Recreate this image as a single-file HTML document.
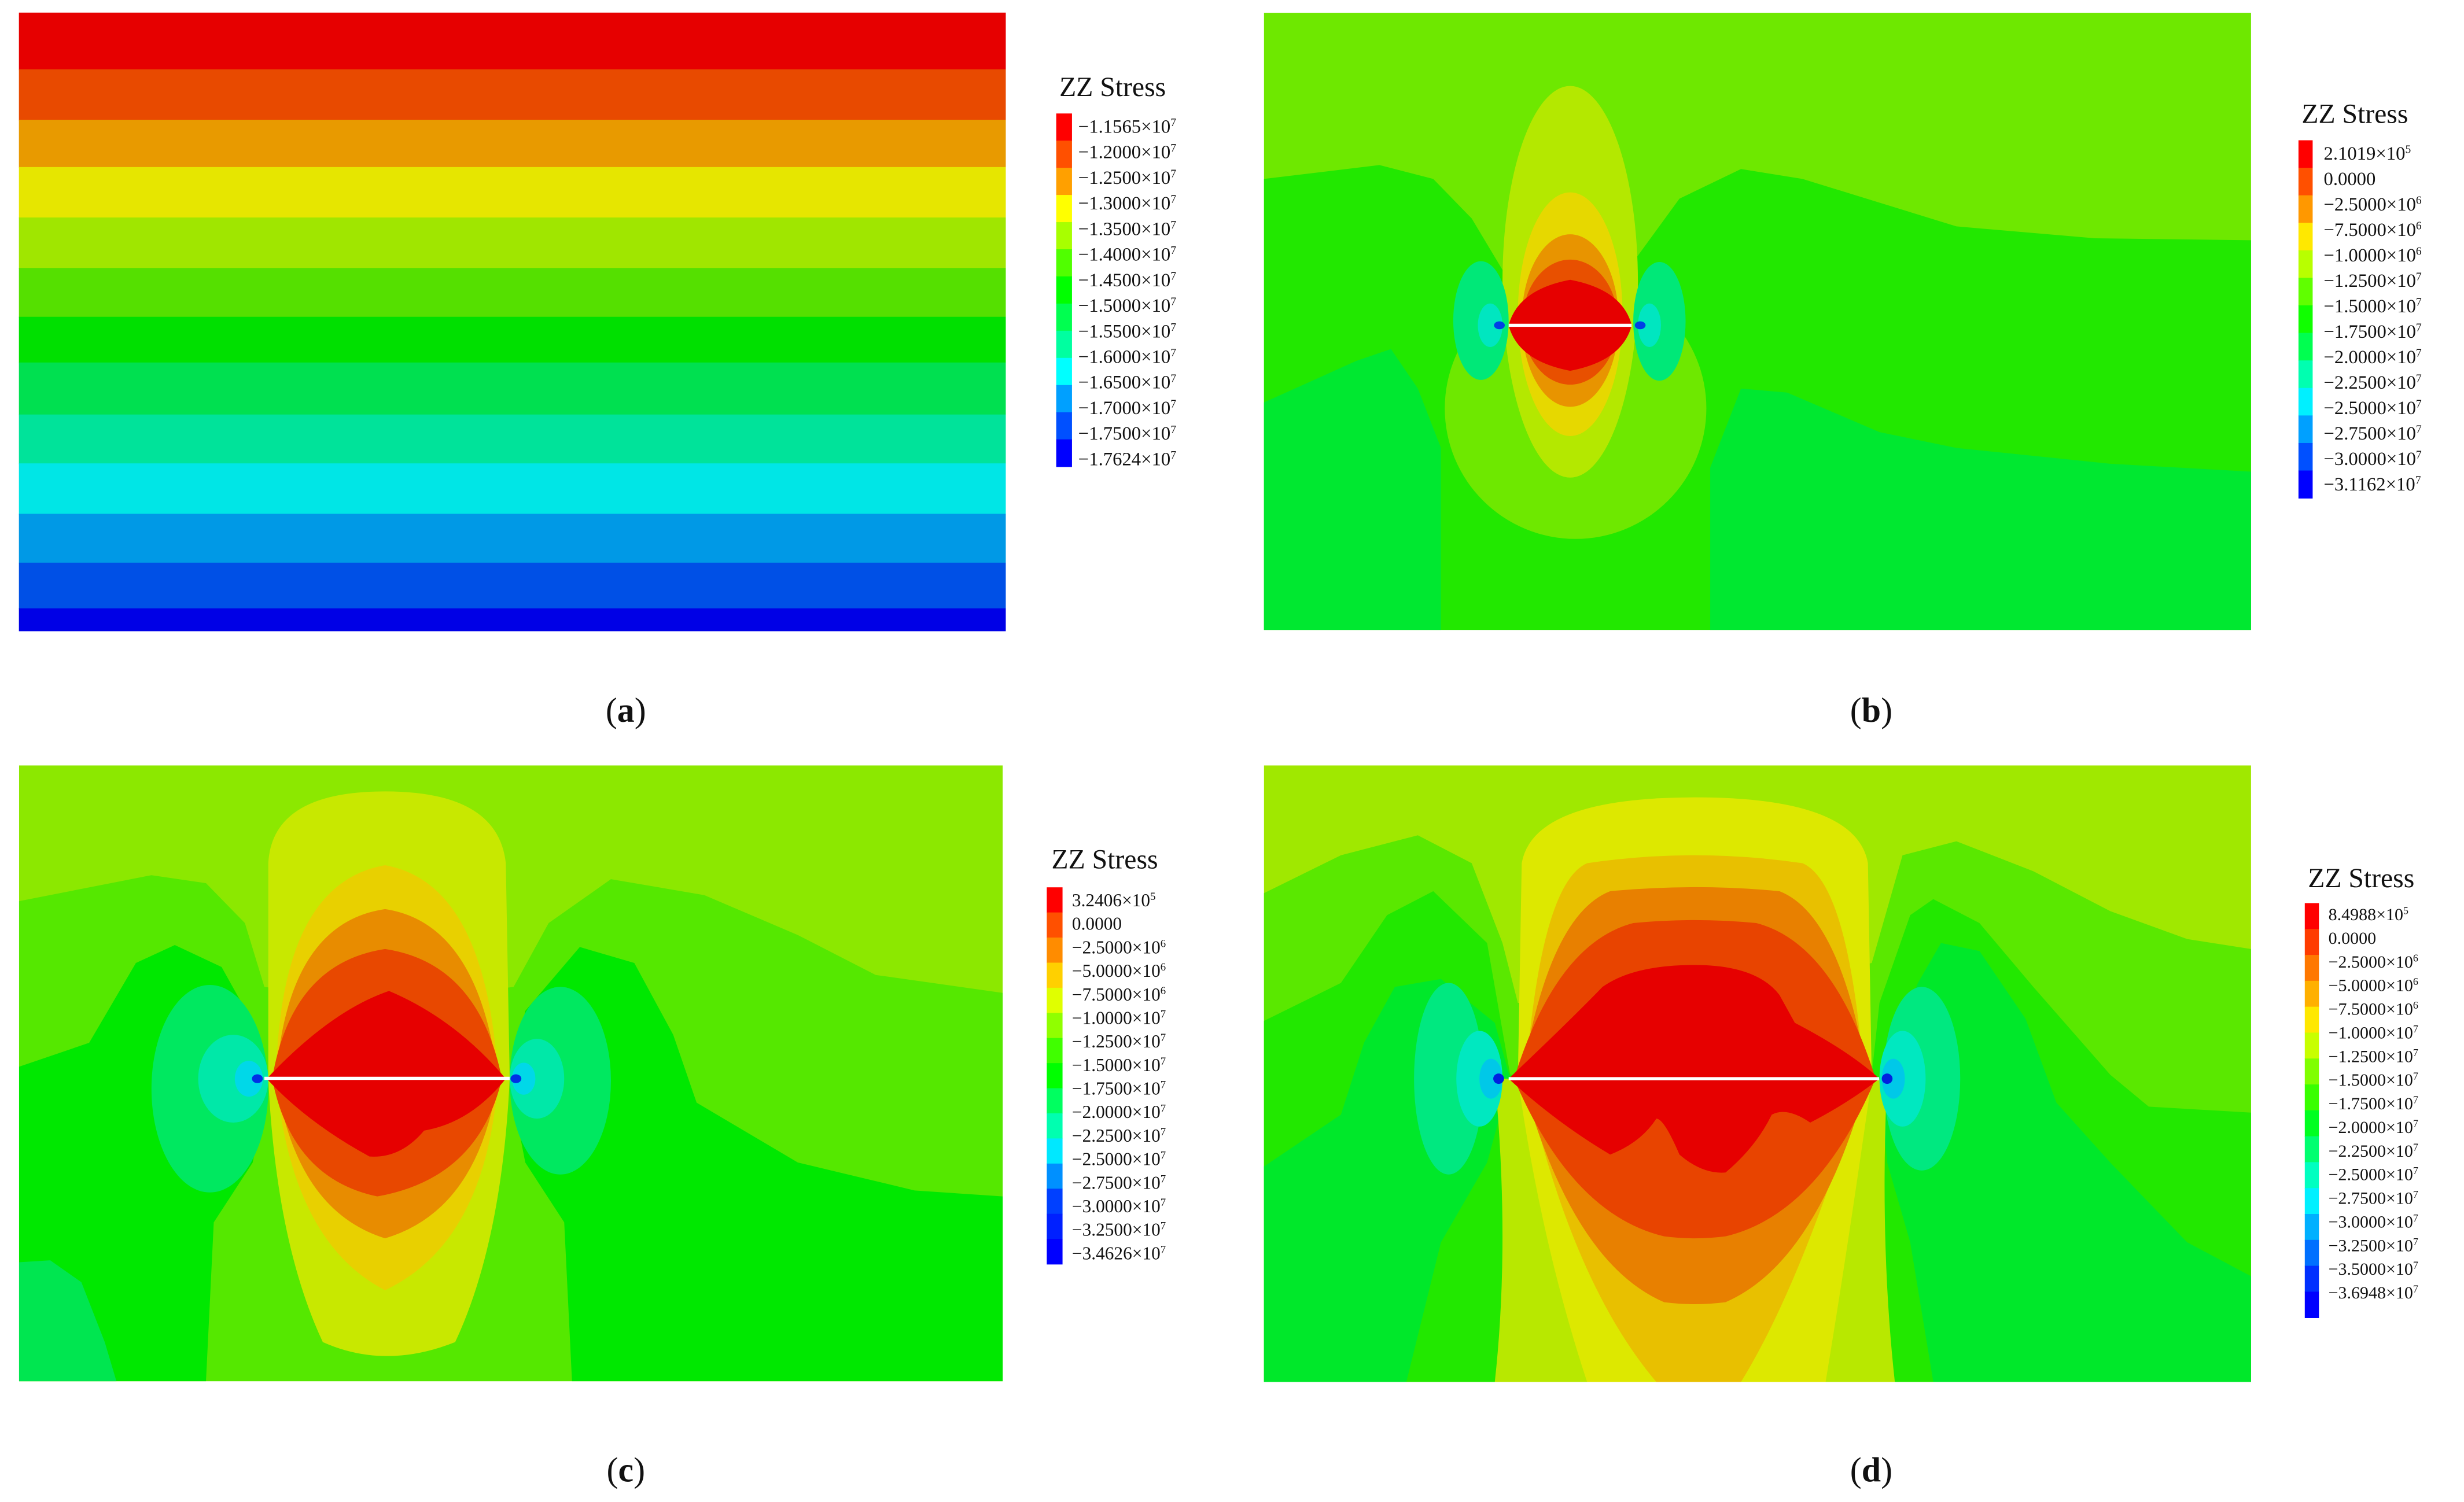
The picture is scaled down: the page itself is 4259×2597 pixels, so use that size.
<!DOCTYPE html>
<html><head><meta charset="utf-8"><style>
html,body{margin:0;padding:0;background:#fff;}
svg{display:block;font-family:"Liberation Serif",serif;}
text{font-family:"Liberation Serif",serif;fill:#111;}
</style></head><body>
<svg id="fig" width="4259" height="2597" viewBox="0 0 1563 953" preserveAspectRatio="none" font-family="Liberation Serif, serif" xmlns="http://www.w3.org/2000/svg">
<!-- Panel a -->
<g id="panelA"></g>

<!-- Panel b -->
<g>
<g transform="translate(801.8,8.1) scale(0.488,0.251)">
<rect x="0" y="0" width="1283" height="1560" fill="#6ee800"/>
<polygon fill="#22e800" points="0,420 150,385 220,420 270,520 310,650 400,700 480,630 540,470 620,395 700,420 800,480 900,540 1080,570 1283,575 1283,1560 0,1560"/>
<polygon fill="#00e830" points="0,985 120,880 165,850 200,950 230,1100 230,1560 0,1560"/>
<polygon fill="#00e830" points="580,1560 580,1150 620,950 680,960 800,1060 900,1100 1100,1140 1283,1160 1283,1560"/>
<ellipse cx="405" cy="1000" rx="170" ry="330" fill="#6ee800"/>
<ellipse cx="398" cy="680" rx="88" ry="495" fill="#b4e800"/>
<ellipse cx="398" cy="762" rx="68" ry="308" fill="#e6d800"/>
<ellipse cx="398" cy="778" rx="63" ry="218" fill="#e89400"/>
<ellipse cx="398" cy="782" rx="62" ry="158" fill="#e85000"/>
<path d="M318,790 Q330,700 398,675 Q466,700 478,790 Q466,880 398,905 Q330,880 318,790Z" fill="#e60000"/>
<ellipse cx="282" cy="778" rx="36" ry="150" fill="#00e878"/>
<ellipse cx="294" cy="790" rx="16" ry="55" fill="#00e6c0"/>
<ellipse cx="306" cy="790" rx="7" ry="10" fill="#0040e6"/>
<ellipse cx="514" cy="780" rx="34" ry="150" fill="#00e878"/>
<ellipse cx="501" cy="790" rx="15" ry="55" fill="#00e6c0"/>
<ellipse cx="489" cy="790" rx="7" ry="10" fill="#0040e6"/>
</g>
<line x1="957" y1="206.4" x2="1035" y2="206.4" stroke="#fff" stroke-width="2"/>
</g>

<!-- Panel c -->
<g>
<g transform="translate(12.1,484.4) scale(0.494,0.2532)">
<rect x="0" y="5" width="1263" height="1543" fill="#8ce800"/>
<polygon fill="#55e800" points="0,345 170,280 240,300 290,400 315,560 470,600 635,560 680,400 760,290 880,330 1000,430 1100,530 1263,575 1263,1548 0,1548"/>
<polygon fill="#00e800" points="0,760 90,700 150,500 200,455 260,510 300,650 320,800 300,1000 250,1150 240,1548 0,1548"/>
<polygon fill="#00e800" points="630,800 650,620 720,460 790,500 840,680 870,850 1000,1000 1150,1070 1263,1085 1263,1548 710,1548 700,1150 650,1000"/>
<polygon fill="#00e650" points="0,1250 40,1245 80,1300 110,1450 125,1548 0,1548"/>
<path d="M320,790 L320,250 Q325,70 470,70 Q615,70 625,250 L630,790 Q620,1200 560,1450 Q470,1520 390,1450 Q330,1200 320,790Z" fill="#c8e800"/>
<path d="M330,790 Q335,300 470,255 Q600,300 615,790 Q600,1200 470,1320 Q350,1200 330,790Z" fill="#e8d000"/>
<path d="M330,790 Q345,400 470,365 Q590,400 615,790 Q590,1120 470,1190 Q355,1120 330,790Z" fill="#e88c00"/>
<path d="M325,790 Q350,500 470,465 Q590,500 620,790 Q590,1040 460,1085 Q350,1040 325,790Z" fill="#e84800"/>
<path d="M318,790 Q400,620 475,570 Q560,640 625,790 Q580,900 520,920 Q490,990 450,985 Q370,900 318,790Z" fill="#e60000"/>
<ellipse cx="245" cy="815" rx="75" ry="260" fill="#00e860"/>
<ellipse cx="275" cy="790" rx="45" ry="110" fill="#00e8a8"/>
<ellipse cx="295" cy="790" rx="18" ry="45" fill="#00d8e8"/>
<ellipse cx="306" cy="790" rx="7" ry="11" fill="#0030e6"/>
<ellipse cx="695" cy="795" rx="65" ry="235" fill="#00e860"/>
<ellipse cx="665" cy="790" rx="35" ry="100" fill="#00e8a8"/>
<ellipse cx="648" cy="790" rx="15" ry="40" fill="#00d8e8"/>
<ellipse cx="638" cy="790" rx="7" ry="11" fill="#0030e6"/>
</g>
<line x1="167.7" y1="684.2" x2="323.3" y2="684.2" stroke="#fff" stroke-width="2"/>
</g>

<!-- Panel d -->
<g>
<g transform="translate(801.8,484.4) scale(0.488,0.2532)">
<rect x="0" y="5" width="1283" height="1545" fill="#a0e800"/>
<polygon fill="#5ae800" points="0,325 100,230 200,180 270,250 310,450 330,600 560,600 790,500 830,230 900,195 1000,270 1100,370 1200,440 1283,465 1283,1550 0,1550"/>
<polygon fill="#22e800" points="0,645 100,550 160,380 220,320 290,450 320,780 790,780 800,600 840,380 870,340 930,400 1000,560 1100,780 1150,860 1283,875 1283,1550 0,1550"/>
<polygon fill="#00e82a" points="0,1010 100,880 130,700 170,560 230,540 300,650 320,790 290,1000 230,1200 185,1550 0,1550"/>
<polygon fill="#00e82a" points="800,790 850,550 880,450 930,470 990,640 1030,850 1100,1000 1200,1200 1283,1285 1283,1550 870,1550 840,1200 810,1000"/>
<path d="M300,790 Q320,1200 300,1550 L820,1550 Q800,1200 810,790 Z" fill="#b8e800"/>
<path d="M330,790 L335,250 Q350,85 560,85 Q770,85 785,250 L790,790 Q760,1200 730,1550 L420,1550 Q360,1200 330,790Z" fill="#dde800"/>
<path d="M340,790 Q360,300 420,250 Q560,210 700,250 Q760,300 780,790 Q700,1300 620,1550 L510,1550 Q400,1300 340,790Z" fill="#e8c000"/>
<path d="M335,790 Q370,380 450,320 Q560,300 670,320 Q750,380 785,790 Q720,1250 600,1350 Q560,1360 520,1350 Q400,1250 335,790Z" fill="#e88000"/>
<path d="M325,790 Q380,450 480,400 Q560,385 640,400 Q740,450 795,790 Q720,1130 600,1185 Q560,1195 520,1185 Q400,1130 325,790Z" fill="#e84400"/>
<path d="M318,790 Q400,640 440,560 Q480,505 560,505 Q640,505 670,580 L690,650 Q760,720 800,790 Q760,850 710,900 Q680,860 660,880 Q640,960 600,1025 Q570,1030 540,980 Q520,890 510,890 Q490,950 450,980 Q380,900 318,790Z" fill="#e60000"/>
<ellipse cx="240" cy="790" rx="45" ry="240" fill="#00e880"/>
<ellipse cx="280" cy="790" rx="30" ry="120" fill="#00e8c0"/>
<ellipse cx="295" cy="790" rx="15" ry="50" fill="#00c8e8"/>
<ellipse cx="305" cy="790" rx="7" ry="13" fill="#0020e0"/>
<ellipse cx="855" cy="790" rx="50" ry="230" fill="#00e880"/>
<ellipse cx="830" cy="790" rx="30" ry="120" fill="#00e8c0"/>
<ellipse cx="818" cy="790" rx="15" ry="50" fill="#00c8e8"/>
<ellipse cx="810" cy="790" rx="7" ry="13" fill="#0020e0"/>
</g>
<line x1="957" y1="684.4" x2="1192" y2="684.4" stroke="#fff" stroke-width="2"/>
</g>

<g id="legends"></g>

<text x="397" y="458" font-size="22" text-anchor="middle" font-family="Liberation Serif, serif">(<tspan font-weight="bold">a</tspan>)</text>
<text x="1187" y="458" font-size="22" text-anchor="middle" font-family="Liberation Serif, serif">(<tspan font-weight="bold">b</tspan>)</text>
<text x="397" y="940" font-size="22" text-anchor="middle" font-family="Liberation Serif, serif">(<tspan font-weight="bold">c</tspan>)</text>
<text x="1187" y="940" font-size="22" text-anchor="middle" font-family="Liberation Serif, serif">(<tspan font-weight="bold">d</tspan>)</text>
</svg>
<script>
const NS = "http://www.w3.org/2000/svg";
// Panel a: horizontal bands (top edge of each band, display units) and colours
const bandEdgesA = [8,44,76,106,138,170,201,230,263,294,326,357,386,400];
const bandColorsA = ["#e60000","#e84a00","#e89a00","#e6e600","#a0e600","#55e000","#00e000","#00e050","#00e39a","#00e6e6","#0099e6","#0050e6","#0000e6"];

// Legend labels [mantissa, exponent]
const labelsA = [["\u22121.1565","7"],["\u22121.2000","7"],["\u22121.2500","7"],["\u22121.3000","7"],["\u22121.3500","7"],["\u22121.4000","7"],["\u22121.4500","7"],["\u22121.5000","7"],["\u22121.5500","7"],["\u22121.6000","7"],["\u22121.6500","7"],["\u22121.7000","7"],["\u22121.7500","7"],["\u22121.7624","7"]];
const labelsB = [["2.1019","5"],["0.0000",""],["\u22122.5000","6"],["\u22127.5000","6"],["\u22121.0000","6"],["\u22121.2500","7"],["\u22121.5000","7"],["\u22121.7500","7"],["\u22122.0000","7"],["\u22122.2500","7"],["\u22122.5000","7"],["\u22122.7500","7"],["\u22123.0000","7"],["\u22123.1162","7"]];
const labelsC = [["3.2406","5"],["0.0000",""],["\u22122.5000","6"],["\u22125.0000","6"],["\u22127.5000","6"],["\u22121.0000","7"],["\u22121.2500","7"],["\u22121.5000","7"],["\u22121.7500","7"],["\u22122.0000","7"],["\u22122.2500","7"],["\u22122.5000","7"],["\u22122.7500","7"],["\u22123.0000","7"],["\u22123.2500","7"],["\u22123.4626","7"]];
const labelsD = [["8.4988","5"],["0.0000",""],["\u22122.5000","6"],["\u22125.0000","6"],["\u22127.5000","6"],["\u22121.0000","7"],["\u22121.2500","7"],["\u22121.5000","7"],["\u22121.7500","7"],["\u22122.0000","7"],["\u22122.2500","7"],["\u22122.5000","7"],["\u22122.7500","7"],["\u22123.0000","7"],["\u22123.2500","7"],["\u22123.5000","7"],["\u22123.6948","7"]];
const colorsA = ["#ff0000","#ff5000","#ffa000","#ffff00","#a8ff00","#50ff00","#00ff00","#00ff50","#00ffa0","#00ffff","#00a0ff","#0050ff","#0000ff"];
const colorsB = ["#ff0000","#ff5000","#ff9800","#ffe800","#b8ff00","#60ff00","#10ff00","#00ff50","#00ffb0","#00f0ff","#00a0ff","#0050ff","#0000ff"];
const colorsC = ["#ff0000","#ff5000","#ff8c00","#ffd000","#e0ff00","#90ff00","#40ff00","#00ff00","#00ff60","#00ffb0","#00e8ff","#0090ff","#0040ff","#0020ff","#0000ff"];
const colorsD = ["#ff0000","#ff3c00","#ff7800","#ffb000","#ffe800","#c8ff00","#80ff00","#38ff00","#00ff20","#00ff70","#00ffc0","#00f0ff","#00b0ff","#0070ff","#0030ff","#0000ff"];

// draw panel a bands
const pa = document.getElementById("panelA");
for (let i = 0; i < bandColorsA.length; i++) {
  const r = document.createElementNS(NS, "rect");
  r.setAttribute("x", 12);
  r.setAttribute("y", bandEdgesA[i]);
  r.setAttribute("width", 626);
  r.setAttribute("height", bandEdgesA[i+1] - bandEdgesA[i] + 0.5);
  r.setAttribute("fill", bandColorsA[i]);
  
  
  pa.appendChild(r);
}

const lg = document.getElementById("legends");
function legend(key, titleX, titleY, barX, barW, barTop, barBot, labels, colors, labX, labTop, labBot, fs) {
  const g = document.createElementNS(NS, "g");
  
  
  const t = document.createElementNS(NS, "text");
  t.setAttribute("x", titleX); t.setAttribute("y", titleY);
  t.setAttribute("font-size", 17.5);
  t.setAttribute("font-family", "Liberation Serif, serif");
  t.textContent = "ZZ Stress";
  
  
  g.appendChild(t);
  const segH = (barBot - barTop) / colors.length;
  colors.forEach((c, i) => {
    const r = document.createElementNS(NS, "rect");
    r.setAttribute("x", barX); r.setAttribute("y", barTop + i*segH);
    r.setAttribute("width", barW); r.setAttribute("height", segH + 0.3);
    r.setAttribute("fill", c);
    
    
    g.appendChild(r);
  });
  const step = (labBot - labTop) / (labels.length - 1);
  labels.forEach((l, i) => {
    const tx = document.createElementNS(NS, "text");
    tx.setAttribute("x", labX); tx.setAttribute("y", labTop + i*step + fs*0.35);
    tx.setAttribute("font-size", fs);
    tx.setAttribute("font-family", "Liberation Serif, serif");
    
    
    tx.appendChild(document.createTextNode(l[0] + (l[1] ? "\u00d710" : "")));
    if (l[1]) {
      const s = document.createElementNS(NS, "tspan");
      s.setAttribute("dy", -fs*0.35); s.setAttribute("font-size", fs*0.6);
      s.textContent = l[1];
      tx.appendChild(s);
    }
    g.appendChild(tx);
  });
  lg.appendChild(g);
}
legend("a", 672, 61, 670, 10, 72, 296, labelsA, colorsA, 684, 80, 291, 12);
legend("b", 1460, 78, 1458, 9, 89, 316, labelsB, colorsB, 1474, 97, 307, 12);
legend("c", 667, 551, 664, 10, 563, 802, labelsC, colorsC, 680, 571, 795, 11.5);
legend("d", 1464, 563, 1462, 9, 573, 836, labelsD, colorsD, 1477, 580, 820, 11);
</script>
</body></html>
